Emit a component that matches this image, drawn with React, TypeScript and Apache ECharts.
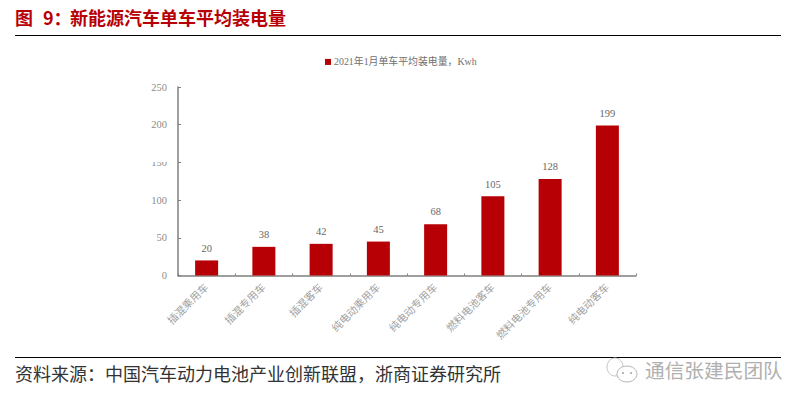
import React, { useEffect, useRef } from "react";
import * as echarts from "echarts";

const categories = ["插混乘用车", "插混专用车", "插混客车", "纯电动乘用车", "纯电动专用车", "燃料电池客车", "燃料电池专用车", "纯电动客车"];
const values = [20, 38, 42, 45, 68, 105, 128, 199];
const seriesName = "2021年1月单车平均装电量，Kwh";
const titleParts = ["图", "9：", "新能源汽车单车平均装电量"];
const sourceText = "资料来源：中国汽车动力电池产业创新联盟，浙商证券研究所";
const watermarkText = "通信张建民团队";

const SERIF = '"Liberation Serif", "Noto Sans CJK SC", serif';
const CJK = '"Noto Sans CJK SC"';
const RED = "#b70005";

export default function App() {
  const ref = useRef<HTMLDivElement>(null);
  useEffect(() => {
    const chart = echarts.init(ref.current!, undefined, { renderer: "svg" });
    const titleStyle = { fontFamily: CJK, fontWeight: "bold", fontSize: 18, fill: RED };
    chart.setOption({
      animation: false,
      backgroundColor: "#ffffff",
      textStyle: { fontFamily: SERIF },
      grid: { left: 178, right: 174, top: 87, bottom: 130.5, containLabel: false },
      legend: {
        show: true,
        top: 52,
        left: 320,
        itemWidth: 6,
        itemHeight: 6,
        itemGap: 4,
        icon: "rect",
        textStyle: { fontFamily: SERIF, fontSize: 9.9, color: "#707070", padding: [0, 0, 0, -2] },
        data: [seriesName],
      },
      xAxis: {
        type: "category",
        data: categories,
        axisLine: { lineStyle: { color: "#7f7f7f", width: 1.5 } },
        axisTick: { show: true, inside: true, length: 2, alignWithLabel: false, lineStyle: { color: "#7f7f7f" } },
        axisLabel: { rotate: 45, interval: 0, margin: 10, fontSize: 10.5, color: "#a0a0a0", fontFamily: SERIF },
      },
      yAxis: {
        type: "value",
        min: 0,
        max: 250,
        interval: 50,
        splitLine: { show: false },
        axisLine: { show: true, lineStyle: { color: "#7f7f7f", width: 1.5 } },
        axisTick: { show: true, inside: true, length: 3, lineStyle: { color: "#7f7f7f" } },
        axisLabel: { fontSize: 10.5, margin: 11, color: "#8c8c8c", fontFamily: SERIF },
      },
      series: [
        {
          name: seriesName,
          type: "bar",
          data: values,
          barWidth: 23,
          itemStyle: { color: RED },
          label: { show: true, position: "top", distance: 7, fontSize: 10.5, color: "#666666", fontFamily: SERIF },
        },
      ],
      graphic: [
        { type: "text", left: 15, top: 8, style: { ...titleStyle, text: titleParts[0] } },
        { type: "text", left: 43, top: 8, style: { ...titleStyle, text: titleParts[1] } },
        { type: "text", left: 70, top: 8, style: { ...titleStyle, text: titleParts[2] } },
        { type: "line", shape: { x1: 15, y1: 35.5, x2: 781, y2: 35.5 }, style: { stroke: "#000", lineWidth: 1 } },
        { type: "line", shape: { x1: 15, y1: 357.5, x2: 781, y2: 357.5 }, style: { stroke: "#000", lineWidth: 1 } },
        { type: "text", left: 15, top: 364, style: { text: sourceText, fontFamily: CJK, fontSize: 18, fill: "#333" } },
        { type: "rect", z: 50, shape: { x: 145, y: 155, width: 30, height: 7 }, style: { fill: "#fff" } },
        { type: "text", z: 60, left: 645, top: 360, style: { text: watermarkText, fontFamily: CJK, fontSize: 19.7, fill: "#b0b0b0" } },
        { type: "ellipse", z: 60, shape: { cx: 615, cy: 367, rx: 8, ry: 9 }, style: { fill: "#fff", stroke: "#c4c4c4", lineWidth: 1 } },
        { type: "ellipse", z: 61, shape: { cx: 627, cy: 374, rx: 10, ry: 8 }, style: { fill: "#fff", stroke: "#b5b5b5", lineWidth: 1 } },
        { type: "circle", z: 62, shape: { cx: 623, cy: 373, r: 0.9 }, style: { fill: "#999" } },
        { type: "circle", z: 62, shape: { cx: 631, cy: 373, r: 0.9 }, style: { fill: "#999" } },
      ],
    });
    return () => chart.dispose();
  }, []);
  return <div ref={ref} style={{ position: "absolute", left: 0, top: 0, width: 810, height: 406 }} />;
}
